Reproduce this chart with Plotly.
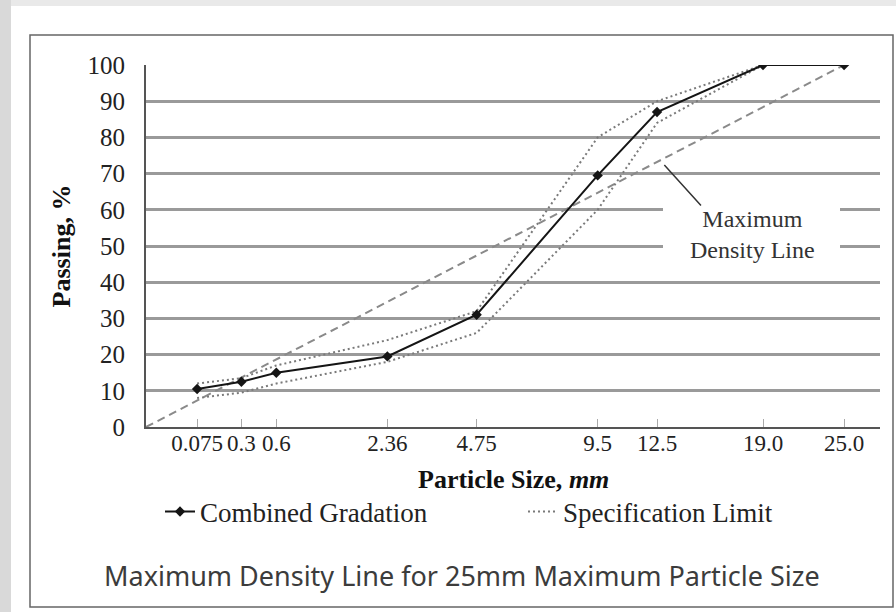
import plotly.graph_objects as go

# ---- data ----
sieve_sizes = [0.075, 0.3, 0.6, 2.36, 4.75, 9.5, 12.5, 19.0, 25.0]
tick_labels = ["0.075", "0.3", "0.6", "2.36", "4.75", "9.5", "12.5", "19.0", "25.0"]
combined_passing = [10.5, 12.5, 15.0, 19.5, 31.0, 69.5, 87.0, 100.0, 100.0]

spec_sizes = [0.075, 0.3, 0.6, 2.36, 4.75, 9.5, 12.5, 19.0]
spec_upper = [12.0, 13.5, 17.0, 24.0, 32.0, 80.0, 90.0, 100.0]
spec_lower = [8.0, 9.5, 12.0, 18.0, 26.0, 60.0, 84.0, 100.0]

mdl_sizes = [0.0, 25.0]
mdl_passing = [0.0, 100.0]

POWER = 0.45


def pw(v):
    return [s ** POWER for s in v]


# ---- layout geometry (pixels) ----
W, H = 896, 612
L, R, T, B = 146, 16, 65, 185
PW = W - L - R
PH = H - T - B


def px(xp):
    return (xp - L) / PW


def py(yp):
    return (H - B - yp) / PH


SERIF = "Liberation Serif"
fig = go.Figure()

fig.add_trace(go.Scatter(
    x=pw(mdl_sizes), y=mdl_passing, mode="lines",
    line=dict(color="#8a8a8a", width=2, dash="8px,5px"),
    showlegend=False, hoverinfo="skip"))

fig.add_trace(go.Scatter(
    x=pw(spec_sizes), y=spec_upper, mode="lines", name="Specification Limit",
    line=dict(color="#7a7a7a", width=2, dash="2px,3px"),
    legendrank=2, showlegend=True))
fig.add_trace(go.Scatter(
    x=pw(spec_sizes), y=spec_lower, mode="lines", name="Specification Limit",
    line=dict(color="#7a7a7a", width=2, dash="2px,3px"),
    showlegend=False))

fig.add_trace(go.Scatter(
    x=pw(sieve_sizes), y=combined_passing, mode="lines+markers",
    name="Combined Gradation", legendrank=1,
    line=dict(color="#151515", width=2),
    marker=dict(symbol="diamond", size=8, color="#151515")))

shapes = [
    # white panel
    dict(type="rect", xref="paper", yref="paper", x0=px(11), x1=px(W + 5), y0=py(6), y1=py(H + 5),
         fillcolor="white", line=dict(width=0), layer="below"),
    # left strip
    dict(type="rect", xref="paper", yref="paper", x0=px(-5), x1=px(11), y0=py(-5), y1=py(H + 5),
         fillcolor="#d9d9d9", line=dict(width=0), layer="below"),
    # frame
    dict(type="rect", xref="paper", yref="paper", x0=px(30), x1=px(893), y0=py(35), y1=py(607),
         fillcolor="rgba(0,0,0,0)", line=dict(color="#666666", width=1.5), layer="below"),
    # white box behind the annotation text
    dict(type="rect", xref="paper", yref="paper", x0=px(663), x1=px(840), y0=py(200), y1=py(263),
         fillcolor="white", line=dict(width=0), layer="above"),
]

annotations = [
    dict(xref="paper", yref="paper", x=px(752), y=py(234), xanchor="center", yanchor="middle",
         text="Maximum<br>Density Line",
         showarrow=False, font=dict(family=SERIF, size=24, color="#333333"), align="center"),
    dict(xref="x", yref="y", x=12.9 ** POWER, y=72.4, text="", showarrow=True,
         arrowhead=0, arrowwidth=1.5, arrowcolor="#333333", ax=38, ay=42),
    # x-axis title
    dict(xref="paper", yref="paper", x=px(513), y=py(479), xanchor="center", yanchor="middle",
         text="<b>Particle Size, <i>mm</i></b>", showarrow=False,
         font=dict(family=SERIF, size=26, color="#111111")),
    dict(xref="paper", yref="paper", x=px(462), y=py(575), xanchor="center", yanchor="middle",
         text="Maximum Density Line for 25mm Maximum Particle Size",
         showarrow=False, font=dict(family="Noto Sans", size=27, color="#3c3c3c")),
]

fig.update_layout(
    width=W, height=H,
    margin=dict(l=L, r=R, t=T, b=B, autoexpand=False),
    paper_bgcolor="#e9e9e9", plot_bgcolor="white",
    font=dict(family=SERIF, size=25, color="#222222"),
    shapes=shapes, annotations=annotations,
    legend=dict(orientation="h", xref="container", yref="container",
                x=160 / W, y=(H - 512) / H, xanchor="left", yanchor="middle",
                bgcolor="rgba(0,0,0,0)", font=dict(family=SERIF, size=27, color="#222222"),
                entrywidth=318, entrywidthmode="pixels", traceorder="normal"),
    xaxis=dict(range=[0, (W - R - L) / 164.0], showgrid=False, zeroline=False,
               showline=True, linecolor="#555555", linewidth=2,
               ticks="inside", ticklen=8, tickcolor="#aaaaaa", tickwidth=1,
               tickmode="array", tickvals=pw(sieve_sizes), ticktext=tick_labels,
               tickangle=0, ticklabelstandoff=-6,
               tickfont=dict(family=SERIF, size=23, color="#222222")),
    yaxis=dict(range=[0, 100], dtick=10, showgrid=True, gridcolor="#9a9a9a", gridwidth=3,
               zeroline=False, showline=True, linecolor="#555555", linewidth=2,
               ticks="", ticklabelstandoff=14,
               tickfont=dict(family=SERIF, size=25, color="#222222"),
               title=dict(text="<b>Passing, %</b>", standoff=9,
                          font=dict(family=SERIF, size=26, color="#111111"))),
)

fig.write_html("out.html", config={"displayModeBar": False},
               post_script="document.body.style.margin='0px';")
